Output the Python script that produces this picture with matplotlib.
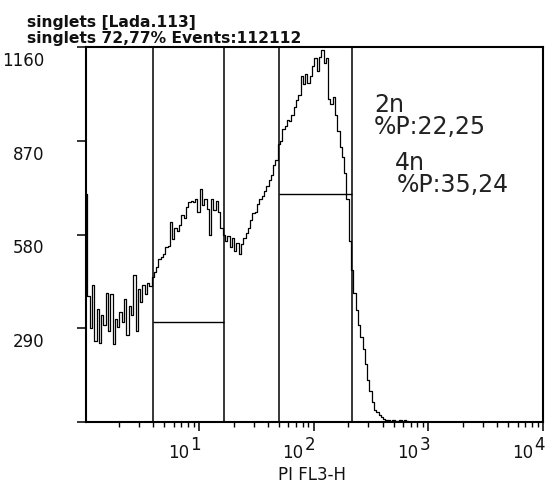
import numpy as np
import matplotlib
matplotlib.use("Agg")
import matplotlib.pyplot as plt

# ---- data ----
counts = [
    705, 390, 290, 425, 250, 350, 245, 330, 300, 400,
    280, 395, 240, 320, 295, 340, 310, 380, 270, 360,
    330, 455, 280, 410, 370, 425, 395, 430, 420, 450,
    465, 480, 505, 510, 520, 540, 545, 620, 565, 600,
    590, 610, 640, 630, 665, 680, 685, 680, 690, 650,
    720, 670, 690, 660, 580, 690, 655, 685, 650, 600,
    580, 560, 575, 540, 570, 530, 555, 520, 550, 570,
    585, 600, 625, 645, 650, 675, 690, 700, 715, 730,
    750, 765, 795, 810, 860, 870, 905, 915, 935, 930,
    950, 975, 995, 1010, 1070, 1045, 1075, 1050, 1070, 1100,
    1125, 1085, 1130, 1150, 1110, 1125, 1000, 985, 1005, 950,
    900, 850, 820, 770, 690, 560, 470, 400, 345, 300,
    262, 225, 180, 130, 95, 62, 38, 30, 22, 14,
    8, 5, 6, 3, 5, 4, 2, 6, 3, 5,
    2, 0,
]
log_start = 0.016          # log10 of first channel centre
log_step = 0.02            # channel width in decades

gate_edges = [3.97, 16.6, 49.6, 214.7]
marker_levels = [310, 705]
marker_ranges = [(3.97, 16.6), (49.6, 214.7)]

region_names = ["2n", "4n"]
region_pct = ["22,25", "35,24"]

ytick_values = [0, 290, 580, 870, 1160]
ytick_labels = ["", "290", "580", "870", "1160"]
xtick_exps = [1, 2, 3, 4]

title_lines = ["singlets [Lada.113]", "singlets 72,77% Events:112112"]
xlabel = "PI FL3-H"

# ---- figure ----
W, H = 548, 483
fig = plt.figure(figsize=(W / 100, H / 100), dpi=100)
ax = fig.add_axes([86 / W, 1 - 422 / H, 457 / W, 375 / H])

channels = 10 ** (log_start + log_step * np.arange(len(counts)))
ax.plot(channels, counts, drawstyle="steps-mid", color="black", lw=0.9)

for g in gate_edges:
    ax.axvline(g, color="black", lw=1.1)
for lvl, (x0, x1) in zip(marker_levels, marker_ranges):
    ax.hlines(lvl, x0, x1, color="black", lw=1.0)

ax.set_xscale("log")
ax.set_xlim(10 ** 0.0144, 1e4)
ax.set_ylim(0, 1160)

for s in ax.spines.values():
    s.set_linewidth(1.5)
    s.set_color("black")

ax.set_yticks(ytick_values)
ax.tick_params(axis="y", direction="out", length=6.5, width=1.1,
               labelleft=False, color="black")
ax.tick_params(axis="x", which="major", direction="out", length=6.5,
               width=1.1, labelbottom=False, color="black")
ax.tick_params(axis="x", which="minor", direction="out", length=3.6,
               width=1.0, color="black")

tc = "#111111"
for v, lab in zip(ytick_values, ytick_labels):
    if lab:
        ax.annotate(lab, xy=(0, v), xycoords=("axes fraction", "data"),
                    xytext=(-42, -19), textcoords="offset pixels",
                    ha="right", va="baseline", fontsize=12, color=tc,
                    family="DejaVu Sans", annotation_clip=False)

for k in xtick_exps:
    ax.annotate("10", xy=(10 ** k, 0), xycoords=("data", "axes fraction"),
                xytext=(-10, -36), textcoords="offset pixels",
                ha="right", va="baseline", fontsize=12, color=tc,
                annotation_clip=False)
    ax.annotate(str(k), xy=(10 ** k, 0), xycoords=("data", "axes fraction"),
                xytext=(-9, -28), textcoords="offset pixels",
                ha="left", va="baseline", fontsize=12, color=tc,
                annotation_clip=False)

fig.text(312.5 / W, 1 - 480 / H, xlabel, ha="center", va="baseline",
         fontsize=12, color=tc)

fig.text(27 / W, 1 - 26.7 / H, title_lines[0], ha="left", va="baseline",
         fontsize=11.2, fontweight="bold", color=tc)
fig.text(27 / W, 1 - 42.7 / H, title_lines[1], ha="left", va="baseline",
         fontsize=11.2, fontweight="bold", color=tc)

# region annotations (axes fraction positions)
name_pos = [(0.6306, 0.8267), (0.6765, 0.672)]
pct_pos = [(0.6306, 0.768), (0.679, 0.6133)]
for name, pct, npos, ppos in zip(region_names, region_pct, name_pos, pct_pos):
    ax.text(npos[0], npos[1], name, transform=ax.transAxes, ha="left",
            va="baseline", fontsize=17, color="#222222")
    ax.text(ppos[0], ppos[1], "%P:" + pct, transform=ax.transAxes, ha="left",
            va="baseline", fontsize=17, color="#222222")

fig.savefig("out.png", dpi=100)
